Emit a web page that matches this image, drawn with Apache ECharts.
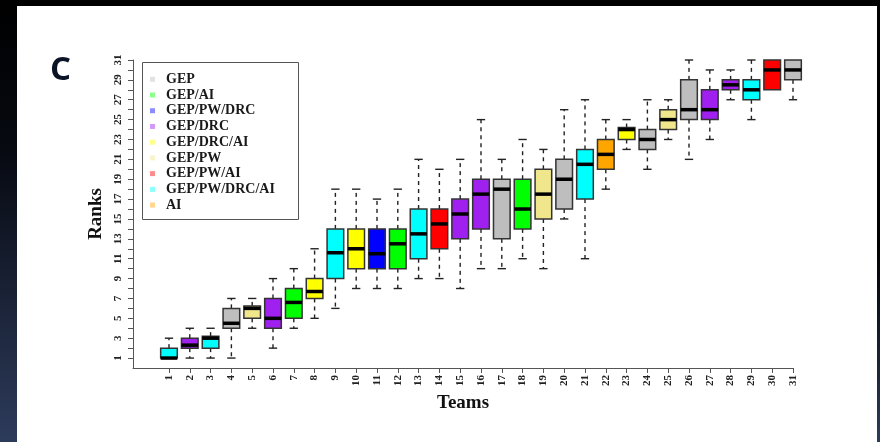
<!DOCTYPE html>
<html><head><meta charset="utf-8">
<script src="https://cdn.jsdelivr.net/npm/echarts@6/dist/echarts.min.js"></script>
<style>
html,body{margin:0;padding:0;background:#000;}
#wrap{position:relative;width:880px;height:442px;overflow:hidden;background:#000;}
#lstrip{position:absolute;left:0;top:0;width:17px;height:442px;background:linear-gradient(#000 0%, #070a12 35%, #2d3b5b 100%);}
#rstrip{position:absolute;right:0;top:0;width:3px;height:442px;background:linear-gradient(#000 55%, #2d3b5b 100%);}
#panel{position:absolute;left:17px;top:6px;width:860px;height:436px;background:#fff;}
#chart{position:absolute;left:0;top:0;width:880px;height:442px;}
</style></head>
<body><div id="wrap"><div id="lstrip"></div><div id="rstrip"></div><div id="panel"></div><div id="chart"></div></div>
<script>
// ---- data ----
const teams   = [1,2,3,4,5,6,7,8,9,10,11,12,13,14,15,16,17,18,19,20,21,22,23,24,25,26,27,28,29,30,31];
const mins    = [1,1,1,1,4,2,4,5,6,8,8,8,9,9,8,10,10,11,10,15,11,18,22,20,23,21,23,27,25,28,27];
const q1s     = [1,2,2,4,5,4,5,7,9,10,10,10,11,12,13,14,13,14,15,16,17,20,23,22,24,25,25,28,27,28,29];
const medians = [1,2.3,3,4.5,6,5,6.6,7.7,11.6,12,11.5,12.5,13.5,14.5,15.5,17.5,18,16,17.5,19,20.5,21.5,24,23,25,26,26,28.5,28,30,30];
const q3s     = [2,3,3.2,6,6.25,7,8,9,14,14,14,14,16,16,17,19,19,19,20,21,22,23,24.2,24,26,29,28,29,29,31,31];
const maxs    = [3,4,4,7,7,9,10,12,18,18,17,18,21,20,21,25,21,23,22,26,27,25,25,27,27,31,30,30,31,31,31];
const teamGroups = ['GEP/PW/DRC/AI','GEP/DRC','GEP/PW/DRC/AI','GEP','GEP/PW','GEP/DRC','GEP/AI','GEP/DRC/AI',
  'GEP/PW/DRC/AI','GEP/DRC/AI','GEP/PW/DRC','GEP/AI','GEP/PW/DRC/AI','GEP/PW/AI','GEP/DRC','GEP/DRC','GEP',
  'GEP/AI','GEP/PW','GEP','GEP/PW/DRC/AI','AI','GEP/DRC/AI','GEP','GEP/PW','GEP','GEP/DRC','GEP/DRC',
  'GEP/PW/DRC/AI','GEP/PW/AI','GEP'];
const legendNames = ['GEP','GEP/AI','GEP/PW/DRC','GEP/DRC','GEP/DRC/AI','GEP/PW','GEP/PW/AI','GEP/PW/DRC/AI','AI'];
const yTicks  = [1,2,3,4,5,6,7,8,9,10,11,12,13,14,15,16,17,18,19,20,21,22,23,24,25,26,27,28,29,30,31];
const yLabels = [1,3,5,7,9,11,13,15,17,19,21,23,25,27,29,31];

// ---- styles ----
const groupColors = {
  'GEP':'#BEBEBE','GEP/AI':'#00FF00','GEP/PW/DRC':'#0000FF','GEP/DRC':'#A020F0','GEP/DRC/AI':'#FFFF00',
  'GEP/PW':'#F0E68C','GEP/PW/AI':'#FF0000','GEP/PW/DRC/AI':'#00FFFF','AI':'#FFA500'
};
const serif = '"Liberation Serif","DejaVu Serif",serif';
const ink = '#222';

const chart = echarts.init(document.getElementById('chart'), null, {renderer:'canvas'});

const graphics = [
  {type:'text', x:50, y:71, z:10, style:{text:'C', font:'bold 33px "Open Sans", sans-serif', fill:'#0b1426', verticalAlign:'middle', align:'left'}},
  {type:'rect', z:10, shape:{x:142.5, y:62.5, width:156, height:157}, style:{fill:'#fff', stroke:'#555', lineWidth:1}}
];
legendNames.forEach((n,i)=>{
  const cy = 79.3 + i*15.72;
  graphics.push({type:'rect', z:11, shape:{x:150, y:cy-2.5, width:5, height:5}, style:{fill:groupColors[n], opacity:0.45}});
  graphics.push({type:'text', z:11, x:166, y:cy, style:{text:n, font:'bold 14px ' + serif, fill:'#1a1a1a', verticalAlign:'middle', align:'left'}});
});

const option = {
  animation:false,
  backgroundColor:'transparent',
  grid:{left:133, right:87, top:60, bottom:74, containLabel:false},
  xAxis:{
    type:'value', min:-0.73, max:31,
    name:'Teams', nameLocation:'middle', nameGap:22,
    nameTextStyle:{fontFamily:serif, fontWeight:'bold', fontSize:19, color:'#111', verticalAlign:'top'},
    axisLine:{show:true, onZero:false, lineStyle:{color:'#555', width:1}},
    axisTick:{show:true, length:5, lineStyle:{color:'#555'}, customValues:teams},
    axisLabel:{show:true, rotate:90, margin:7, fontFamily:serif, fontWeight:'bold', fontSize:11, color:ink, customValues:teams},
    splitLine:{show:false}
  },
  yAxis:{
    type:'value', min:0, max:31,
    name:'Ranks', nameLocation:'middle', nameGap:22, nameRotate:90,
    nameTextStyle:{fontFamily:serif, fontWeight:'bold', fontSize:19, color:'#111'},
    axisLine:{show:true, onZero:false, lineStyle:{color:'#555', width:1}},
    axisTick:{show:true, length:5, lineStyle:{color:'#555'}, customValues:yTicks},
    axisLabel:{show:true, rotate:90, margin:9, fontFamily:serif, fontWeight:'bold', fontSize:11, color:ink, customValues:yLabels},
    splitLine:{show:false}
  },
  graphic:graphics,
  series:[{
    type:'custom',
    data: teams.map((t,i)=>[t, mins[i], q1s[i], medians[i], q3s[i], maxs[i], i]),
    encode:{x:0, y:[1,2,3,4,5]},
    renderItem:(params, api)=>{
      const t = api.value(0);
      const idx = api.value(6);
      const mn = api.value(1), q1 = api.value(2), md = api.value(3), q3 = api.value(4), mx = api.value(5);
      const halfW = api.size([0.8, 0])[0] / 2;
      const capW = halfW / 2;
      const pMin = api.coord([t, mn]), pQ1 = api.coord([t, q1]), pMd = api.coord([t, md]);
      const pQ3 = api.coord([t, q3]), pMax = api.coord([t, mx]);
      const x = pMd[0];
      const color = groupColors[teamGroups[idx]];
      const ch = [];
      const dash = {stroke:ink, lineWidth:1.4, lineDash:[4,4], fill:null};
      const solid = {stroke:ink, lineWidth:1.4, fill:null};
      if (mx > q3) {
        ch.push({type:'line', shape:{x1:x, y1:pQ3[1], x2:x, y2:pMax[1]}, style:dash});
        ch.push({type:'line', shape:{x1:x-capW, y1:pMax[1], x2:x+capW, y2:pMax[1]}, style:solid});
      }
      if (mn < q1) {
        ch.push({type:'line', shape:{x1:x, y1:pQ1[1], x2:x, y2:pMin[1]}, style:dash});
        ch.push({type:'line', shape:{x1:x-capW, y1:pMin[1], x2:x+capW, y2:pMin[1]}, style:solid});
      }
      ch.push({type:'rect', shape:{x:x-halfW, y:pQ3[1], width:2*halfW, height:pQ1[1]-pQ3[1]},
               style:{fill:color, stroke:'#333', lineWidth:1.5}});
      ch.push({type:'line', shape:{x1:x-halfW, y1:pMd[1], x2:x+halfW, y2:pMd[1]}, style:{stroke:'#000', lineWidth:3.5}});
      return {type:'group', children:ch};
    }
  }]
};
chart.setOption(option);
</script>
</body></html>
